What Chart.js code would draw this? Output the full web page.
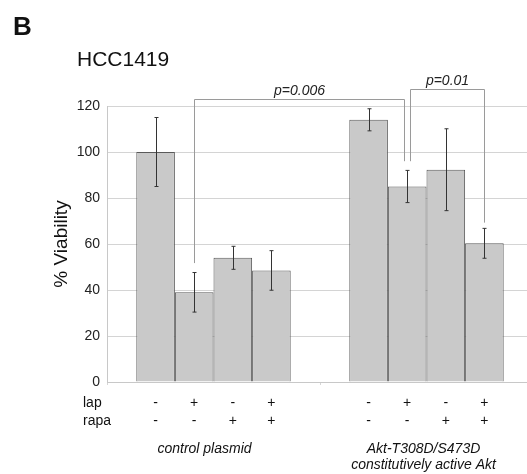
<!DOCTYPE html>
<html>
<head>
<meta charset="utf-8">
<script src="https://cdn.jsdelivr.net/npm/chart.js@4/dist/chart.umd.min.js"></script>
<style>
  html, body { margin: 0; padding: 0; background: #fff; overflow: hidden; }
  #wrap { width: 533px; height: 474px; }
</style>
</head>
<body>
<div id="wrap"><canvas id="chart" width="533" height="474"></canvas></div>
<script>
// groups on the x axis
const groups = ['control plasmid', ['Akt-T308D/S473D', 'constitutively active Akt']];
// treatment rows under each bar
const lap = ['-', '+', '-', '+'];
const rapa = ['-', '-', '+', '+'];
// % viability, one value per treatment
const controlMeans = [100, 39, 54, 48.5];
const controlErr = [15, 8.6, 5, 8.6];
const aktMeans = [114, 85, 92.3, 60.3];
const aktErr = [4.8, 7, 17.8, 6.5];
// significance brackets: [dataset, group] for each leg, leg ends and top in % units
const brackets = [
    { label: 'p=0.006', left: [1, 0], right: [1, 1], leftEnd: 51.7, rightEnd: 96, top: 123 },
    { label: 'p=0.01', left: [1, 1], right: [3, 1], leftEnd: 96, rightEnd: 69.3, top: 127.3 }
];

const font = '"Liberation Sans", Arial, sans-serif';

const datasets = lap.map((l, k) => ({
    label: 'lap ' + l + ' rapa ' + rapa[k],
    data: [controlMeans[k], aktMeans[k]],
    err: [controlErr[k], aktErr[k]],
    backgroundColor: '#c9c9c9',
    borderColor: '#5a5a5a',
    borderWidth: 1,
    barPercentage: 1,
    categoryPercentage: 0.725
}));

const extras = {
    id: 'extras',
    afterDatasetsDraw(chart) {
        const ctx = chart.ctx;
        const y = chart.scales.y;
        ctx.save();
        // error bars
        ctx.strokeStyle = '#333';
        ctx.lineWidth = 1;
        chart.data.datasets.forEach((ds, d) => {
            chart.getDatasetMeta(d).data.forEach((bar, i) => {
                const x = Math.round(bar.x) + 0.5;
                const hi = y.getPixelForValue(ds.data[i] + ds.err[i]);
                const lo = y.getPixelForValue(ds.data[i] - ds.err[i]);
                ctx.beginPath();
                ctx.moveTo(x, hi); ctx.lineTo(x, lo);
                ctx.moveTo(x - 2, hi); ctx.lineTo(x + 2, hi);
                ctx.moveTo(x - 2, lo); ctx.lineTo(x + 2, lo);
                ctx.stroke();
            });
        });
        // brackets (the two share a bar, so their legs sit 3px either side)
        ctx.strokeStyle = '#9a9a9a';
        ctx.fillStyle = '#222';
        ctx.font = 'italic 14px ' + font;
        ctx.textAlign = 'center';
        ctx.textBaseline = 'bottom';
        brackets.forEach((b, n) => {
            const x1 = Math.round(chart.getDatasetMeta(b.left[0]).data[b.left[1]].x + (n === 1 ? 3 : 0)) + 0.5;
            const x2 = Math.round(chart.getDatasetMeta(b.right[0]).data[b.right[1]].x + (n === 0 ? -3 : 0)) + 0.5;
            const t = Math.round(y.getPixelForValue(b.top)) + 0.5;
            ctx.beginPath();
            ctx.moveTo(x1, y.getPixelForValue(b.leftEnd));
            ctx.lineTo(x1, t);
            ctx.lineTo(x2, t);
            ctx.lineTo(x2, y.getPixelForValue(b.rightEnd));
            ctx.stroke();
            ctx.fillText(b.label, (x1 + x2) / 2, t - 1);
        });
        ctx.restore();
    },
    afterDraw(chart) {
        const ctx = chart.ctx;
        const area = chart.chartArea;
        ctx.save();
        ctx.fillStyle = '#111';
        ctx.textBaseline = 'middle';
        ctx.textAlign = 'left';
        ctx.font = 'bold 26px ' + font;
        ctx.fillText('B', 13, 28);
        ctx.font = '21px ' + font;
        ctx.fillText('HCC1419', 77, 60);

        // y axis title
        ctx.save();
        ctx.translate(62, (area.top + area.bottom) / 2);
        ctx.rotate(-Math.PI / 2);
        ctx.textAlign = 'center';
        ctx.font = '19px ' + font;
        ctx.fillText('% Viability', 0, 0);
        ctx.restore();

        // treatment rows
        ctx.font = '14px ' + font;
        ctx.textAlign = 'left';
        ctx.fillText('lap', 83, 403);
        ctx.fillText('rapa', 83, 421);
        ctx.textAlign = 'center';
        chart.data.datasets.forEach((ds, d) => {
            chart.getDatasetMeta(d).data.forEach(bar => {
                ctx.fillText(lap[d], bar.x, 403);
                ctx.fillText(rapa[d], bar.x, 421);
            });
        });

        // group labels
        ctx.font = 'italic 14px ' + font;
        const xs = chart.scales.x;
        const nudge = [-9, -3];
        groups.forEach((g, i) => {
            const cx = xs.getPixelForValue(i) + nudge[i];
            const lines = Array.isArray(g) ? g : [g];
            lines.forEach((line, j) => ctx.fillText(line, cx, 449 + j * 16));
        });
        ctx.restore();
    }
};

new Chart(document.getElementById('chart'), {
    type: 'bar',
    data: {
        labels: groups,
        datasets: datasets
    },
    options: {
        responsive: false,
        animation: false,
        layout: { padding: { top: 106, bottom: 92, left: 0, right: 0 } },
        plugins: {
            legend: { display: false },
            tooltip: { enabled: false }
        },
        scales: {
            x: {
                ticks: { display: false },
                grid: { drawOnChartArea: false, offset: true, tickLength: 3, color: '#d6d6d6' },
                border: { color: '#c8c8c8' },
                afterFit: s => { s.height = 0; }
            },
            y: {
                min: 0,
                max: 120,
                ticks: {
                    stepSize: 20,
                    padding: 7,
                    color: '#222',
                    font: { family: font, size: 14 }
                },
                grid: { drawTicks: false, color: '#d4d4d4' },
                border: { color: '#c8c8c8' },
                afterFit: s => { s.width = 107; }
            }
        }
    },
    plugins: [extras]
});
</script>
</body>
</html>
